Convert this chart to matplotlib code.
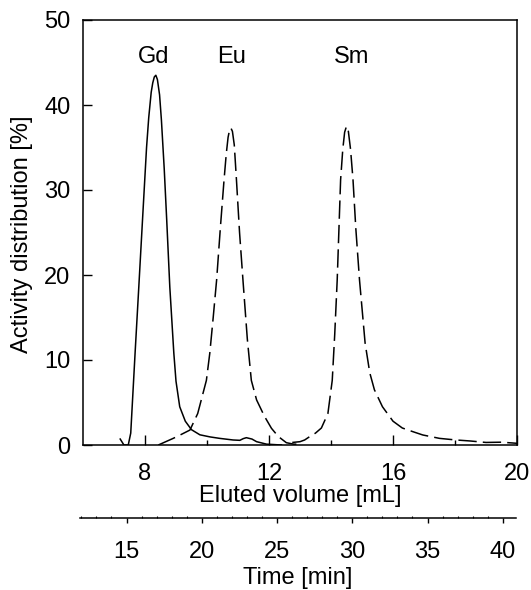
import matplotlib
matplotlib.use("Agg")
import matplotlib.pyplot as plt
from matplotlib.ticker import MultipleLocator, FixedLocator

plt.rcParams['font.family'] = ['Liberation Sans', 'DejaVu Sans']

# ---- data ----
gd_x = [7.20, 7.32, 7.46, 7.54, 7.68, 7.80, 7.92, 8.05, 8.12, 8.20, 8.25, 8.30, 8.35,
        8.40, 8.47, 8.53, 8.62, 8.70, 8.80, 8.93, 9.00, 9.12, 9.30, 9.50, 9.77, 10.10,
        10.41, 10.84, 11.06, 11.17, 11.27, 11.45, 11.60, 11.92, 12.40]
gd_y = [0.7, 0.0, 0.0, 1.4, 10.8, 18.6, 26.5, 35.0, 38.5, 41.5, 42.6, 43.3, 43.5,
        43.0, 41.2, 38.2, 32.5, 26.5, 18.6, 10.8, 7.5, 4.5, 2.8, 1.8, 1.2, 0.95,
        0.78, 0.59, 0.55, 0.75, 0.86, 0.7, 0.39, 0.1, 0.0]

eu_x = [8.43, 8.91, 9.07, 9.45, 9.70, 9.98, 10.09, 10.20, 10.31, 10.43, 10.55, 10.62,
        10.68, 10.73, 10.77, 10.82, 10.88, 10.95, 11.05, 11.16, 11.30, 11.43, 11.60,
        11.85, 12.08, 12.30, 12.56, 12.80, 13.00]
eu_y = [0.0, 0.78, 1.06, 1.76, 3.7, 7.6, 10.8, 15.0, 19.4, 25.5, 31.2, 34.2,
        36.2, 37.1, 37.3, 36.9, 35.3, 31.2, 25.0, 19.4, 12.5, 7.6, 5.3,
        3.4, 1.96, 1.0, 0.27, 0.1, 0.1]

sm_x = [12.75, 13.00, 13.15, 13.31, 13.50, 13.69, 13.90, 14.04, 14.12, 14.20, 14.31,
        14.38, 14.44, 14.50, 14.56, 14.63, 14.71, 14.80, 14.92, 15.10, 15.25, 15.40,
        15.66, 16.00, 16.30, 16.64, 16.96, 17.50, 18.00, 18.50, 19.00, 19.50, 20.00]
sm_y = [0.3, 0.39, 0.59, 0.98, 1.4, 2.0, 3.7, 7.6, 13.0, 19.4, 31.2,
        34.8, 36.8, 37.5, 36.9, 34.8, 31.2, 25.5, 19.4, 12.0, 8.5, 6.5,
        4.5, 2.8, 2.0, 1.57, 1.18, 0.78, 0.6, 0.47, 0.3, 0.33, 0.2]

peak_labels = ["Gd", "Eu", "Sm"]
peak_label_x = [8.27, 10.78, 14.65]
peak_label_y = 45.7

vol_ticks = [8, 12, 16, 20]
vol_minor = [10, 14, 18]
time_ticks = [15, 20, 25, 30, 35, 40]

# ---- figure ----
W, H = 531, 590
fig = plt.figure(figsize=(W / 100, H / 100), dpi=100)

ax = fig.add_axes([83 / W, 1 - 445 / H, (517 - 83) / W, (445 - 20) / H])
ax.plot(gd_x, gd_y, color='black', lw=1.1, solid_joinstyle='round')
l_eu, = ax.plot(eu_x, eu_y, color='black', lw=1.1)
l_eu.set_dashes((12, 4))
l_sm, = ax.plot(sm_x, sm_y, color='black', lw=1.1)
l_sm.set_dashes((12, 4))

ax.set_xlim(6, 20)
ax.set_ylim(0, 50)
ax.xaxis.set_major_locator(FixedLocator(vol_ticks))
ax.xaxis.set_minor_locator(FixedLocator(vol_minor))
ax.yaxis.set_major_locator(MultipleLocator(10))
ax.tick_params(axis='x', which='major', direction='in', length=7, width=1.0,
               labelsize=17, pad=13)
ax.tick_params(axis='x', which='minor', direction='in', length=3.5, width=1.0)
ax.tick_params(axis='y', which='major', direction='in', length=6.6, width=1.0,
               labelsize=17, pad=9)
for s in ax.spines.values():
    s.set_linewidth(1.1)

for lab, xx in zip(peak_labels, peak_label_x):
    ax.text(xx, peak_label_y, lab, ha='center', va='center', fontsize=17)

ax.set_xlabel("Eluted volume [mL]", fontsize=17, va='center')
ax.xaxis.set_label_coords(0.5, -(496 - 445) / 425)
ax.set_ylabel("Activity distribution [%]", fontsize=17, va='center')
ax.yaxis.set_label_coords(-(83 - 22) / 434, (445 - 234) / 425)

# ---- secondary time axis ----
t_left = 15 + (80 - 126.5) / 15.05
t_right = 15 + (516 - 126.5) / 15.05
ax2 = fig.add_axes([80 / W, 1 - 518 / H, (516 - 80) / W, 1e-4])
ax2.set_xlim(t_left, t_right)
ax2.patch.set_visible(False)
for side in ['left', 'right', 'top']:
    ax2.spines[side].set_visible(False)
ax2.spines['bottom'].set_linewidth(1.1)
ax2.yaxis.set_visible(False)
ax2.xaxis.set_major_locator(FixedLocator(time_ticks))
ax2.xaxis.set_minor_locator(MultipleLocator(1))
ax2.tick_params(axis='x', which='major', direction='out', length=3.5, width=1.0,
                labelsize=17, pad=13)
ax2.tick_params(axis='x', which='minor', direction='in', length=1.6, width=0.8)
ax2.set_xlabel("Time [min]", fontsize=17, va='center')
ax2.xaxis.set_label_coords(298 / W, 1 - 578 / H, transform=fig.transFigure)

fig.savefig("out.png", dpi=100)
